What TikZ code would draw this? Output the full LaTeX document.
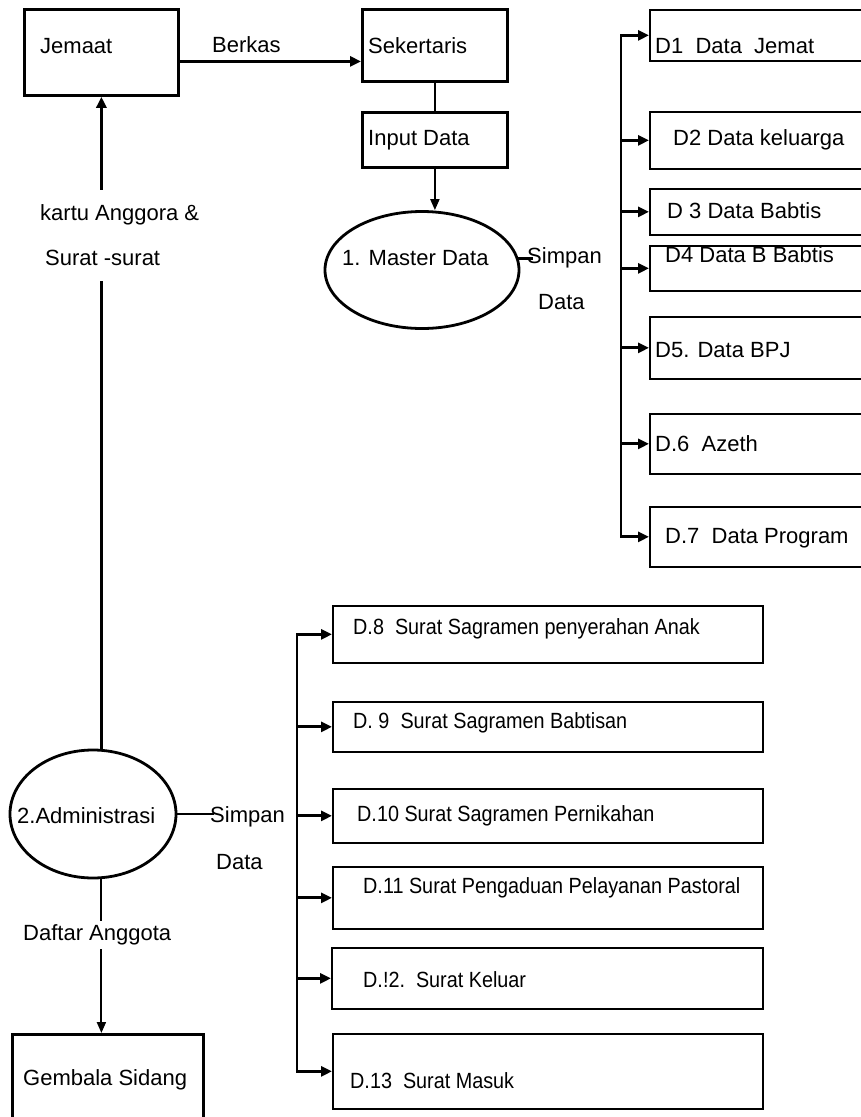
\documentclass[tikz,border=0pt]{standalone}
\usepackage{fontspec}
\setmainfont{Liberation Sans}
\newfontfamily\sempit[FakeStretch=0.9]{Liberation Sans}
\usetikzlibrary{shapes.geometric, arrows.meta}

\begin{document}
\begin{tikzpicture}[x=1pt, y=-1pt,
    every node/.style={font=\fontsize{22}{26}\selectfont},
    ent/.style={draw, line width=2.8pt, anchor=north west, inner sep=0},
    simpan/.style={draw, line width=1.7pt, anchor=north west, inner sep=0},
    proses/.style={draw, ellipse, line width=2.8pt, inner sep=0},
    teks/.style={anchor=west, inner sep=0},
    kecil/.style={font=\sempit\fontsize{22}{26}\selectfont},
    garis/.style={line width=2.8pt},
    garistipis/.style={line width=2pt},
    panah/.style={line width=2.8pt, -{Triangle[length=11pt,width=10pt]}},
    panahtipis/.style={line width=2pt, -{Triangle[length=11pt,width=9pt]}}]
            \useasboundingbox (0,0) rectangle (861,1117);
            \clip (0,0) rectangle (861,1117);

            % Entitas luar
            \node[ent, minimum width=154, minimum height=86] (jemaat) at (23,8) {}; \node[teks] (tjemaat) at (40,46) {Jemaat};
            \node[ent, minimum width=145, minimum height=72] (sekertaris) at (361,8) {}; \node[teks] (tsekertaris) at (368,46) {Sekertaris};
            \node[ent, minimum width=145, minimum height=55] (input) at (361,111) {}; \node[teks] (tinput) at (368,140) {Input Data};
            \node[ent, minimum width=191, minimum height=100] (gembala) at (11,1033) {}; \node[teks] (tgembala) at (23,1080) {Gembala Sidang};

            % Proses
            \node[proses, minimum width=194, minimum height=117] (master) at (422,270) {}; \node[teks] (tmaster) at (342,258) {1. Master Data};
            \node[proses, minimum width=166, minimum height=128] (admin) at (93,814) {}; \node[teks] (tadmin) at (17,816) {2.Administrasi};

            % Label aliran
            \node[teks] (berkas) at (212,45) {Berkas};
            \node[teks] (simpan1) at (527,258) {Simpan}; \node[teks] (data1) at (538,302) {Data};
            \node[teks] (simpan2) at (210,817) {Simpan}; \node[teks] (data2) at (216,862) {Data};
            \node[teks, align=left, minimum height=91, font=\fontsize{22}{45}\selectfont] (kartu) at (40,235.5) {kartu Anggora \&\\\hspace{5pt}Surat -surat};
            \node[teks, inner ysep=4] (daftar) at (23,935) {Daftar Anggota};

            % Data store master
            \node[simpan, minimum width=240, minimum height=51] (d1) at (649,9) {}; \node[teks] (td1) at (655,46) {D1\ \ Data\ \ Jemat};
            \node[simpan, minimum width=240, minimum height=57] (d2) at (649,111) {}; \node[teks] (td2) at (673,140) {D2 Data keluarga};
            \node[simpan, minimum width=240, minimum height=46] (d3) at (649,188) {}; \node[teks] (td3) at (667,211) {D 3 Data Babtis};
            \node[simpan, minimum width=240, minimum height=45] (d4) at (649,245) {}; \node[teks] (td4) at (665,255) {D4 Data B Babtis};
            \node[simpan, minimum width=240, minimum height=62] (d5) at (649,316) {}; \node[teks] (td5) at (655,350) {D5. Data BPJ};
            \node[simpan, minimum width=240, minimum height=60] (d6) at (649,413) {}; \node[teks] (td6) at (655,444) {D.6\ \ Azeth};
            \node[simpan, minimum width=240, minimum height=60] (d7) at (649,506) {}; \node[teks] (td7) at (665,538) {D.7\ \ Data Program};

            % Data store administrasi
            \node[simpan, minimum width=430, minimum height=57] (d8) at (332,605) {}; \node[teks, kecil] (td8) at (353,629) {D.8\ \ Surat Sagramen penyerahan Anak};
            \node[simpan, minimum width=430, minimum height=50] (d9) at (332,701) {}; \node[teks, kecil] (td9) at (353,723) {D. 9\ \ Surat Sagramen Babtisan};
            \node[simpan, minimum width=430, minimum height=54] (d10) at (332,788) {}; \node[teks, kecil] (td10) at (357,816) {D.10 Surat Sagramen Pernikahan};
            \node[simpan, minimum width=430, minimum height=62] (d11) at (332,866) {}; \node[teks, kecil] (td11) at (363,888) {D.11 Surat Pengaduan Pelayanan Pastoral};
            \node[simpan, minimum width=431, minimum height=61] (d12) at (331,947) {}; \node[teks, kecil] (td12) at (363,980) {D.!2.\ \ Surat Keluar};
            \node[simpan, minimum width=430, minimum height=75] (d13) at (332,1033) {}; \node[teks, kecil] (td13) at (350,1081) {D.13\ \ Surat Masuk};

            % Aliran utama
            \draw[panah] ([yshift=-9]jemaat.east) -- ([yshift=-9]jemaat.east -| sekertaris.west);
            \draw[garis] (sekertaris) -- (input);
            \draw[panahtipis] (input.south) -- (input.south |- master.north);
            \draw[garis] (master.7) -- ([xshift=6]master.7 -| simpan1.west);
            \draw[garis] (admin.east) -- ([xshift=4]admin.east -| simpan2.west);
            \draw[garis] (jemaat.south |- admin.north) -- (jemaat.south |- kartu.south);
            \draw[panah] (jemaat.south |- kartu.north) -- (jemaat.south);
            \draw[garistipis] (jemaat.south |- admin.south) -- (jemaat.south |- daftar.north);
            \draw[panahtipis] (jemaat.south |- daftar.south) -- (jemaat.south |- gembala.north);

            % Bus ke data store
            \coordinate (busA) at (621,0);
            \draw[panah] (busA |- d7.west) -- (busA |- d1.west) -- (d1.west);
            \draw[panah] (busA |- d1.west) -- (busA |- d7.west) -- (d7.west);
            \draw[panah] (busA |- d2.west) -- (d2.west); \draw[panah] (busA |- d3.west) -- (d3.west); \draw[panah] (busA |- d4.west) -- (d4.west);
            \draw[panah] (busA |- d5.west) -- (d5.west); \draw[panah] (busA |- d6.west) -- (d6.west);

            \coordinate (busB) at (297,0);
            \draw[panah] (busB |- d13.west) -- (busB |- d8.west) -- (d8.west);
            \draw[panah] (busB |- d8.west) -- (busB |- d13.west) -- (d13.west);
            \draw[panah] (busB |- d9.west) -- (d9.west); \draw[panah] (busB |- d10.west) -- (d10.west);
            \draw[panah] (busB |- d11.west) -- (d11.west); \draw[panah] (busB |- d12.west) -- (d12.west);
\end{tikzpicture}
\end{document}
